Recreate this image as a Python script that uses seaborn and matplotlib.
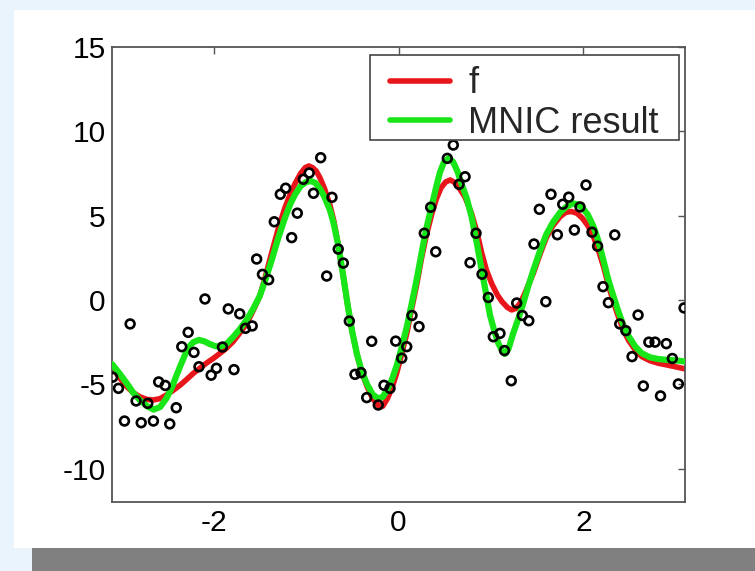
import matplotlib
matplotlib.use("Agg")
import matplotlib.pyplot as plt
import seaborn as sns
import pandas as pd
from matplotlib.patches import Rectangle

# true function f
x_f = [-3.10, -3.02, -2.94, -2.87, -2.80, -2.72, -2.65, -2.58, -2.51, -2.44, -2.36, -2.29,
       -2.22, -2.15, -2.08, -2.00, -1.93, -1.86, -1.79, -1.72, -1.64, -1.57, -1.50, -1.44,
       -1.37, -1.30, -1.23, -1.17, -1.12, -1.06, -1.01, -0.97, -0.93, -0.89, -0.85, -0.80,
       -0.74, -0.70, -0.65, -0.60, -0.55, -0.50, -0.45, -0.40, -0.34, -0.28, -0.22, -0.17,
       -0.12, -0.07, -0.02, 0.03, 0.09, 0.14, 0.20, 0.25, 0.30, 0.36, 0.41, 0.46, 0.51,
       0.56, 0.60, 0.65, 0.72, 0.79, 0.85, 0.90, 0.95, 1.01, 1.07, 1.12, 1.18, 1.225,
       1.27, 1.315, 1.36, 1.41, 1.46, 1.53, 1.60, 1.67, 1.75, 1.81, 1.87, 1.93, 1.99,
       2.05, 2.11, 2.16, 2.22, 2.27, 2.33, 2.38, 2.43, 2.49, 2.56, 2.63, 2.72, 2.81,
       2.90, 2.96, 3.03, 3.10]
y_f = [-3.97, -4.60, -5.14, -5.50, -5.74, -5.90, -5.93, -5.85, -5.63, -5.37, -5.04, -4.70,
       -4.35, -4.05, -3.75, -3.45, -3.16, -2.85, -2.47, -1.98, -1.38, -0.60, 0.25, 1.40,
       2.85, 4.25, 5.45, 6.30, 6.90, 7.50, 7.85, 7.95, 7.85, 7.65, 7.25, 6.60,
       5.60, 4.70, 3.20, 1.50, -0.30, -1.90, -3.20, -4.25, -5.14, -5.85, -6.25, -6.30,
       -5.85, -5.20, -4.35, -3.30, -1.98, -0.60, 1.00, 2.50, 3.80, 5.10, 6.00, 6.65, 7.00,
       7.12, 7.00, 6.70, 6.10, 5.14, 4.00, 2.80, 1.80, 0.95, 0.30, -0.10, -0.45, -0.59,
       -0.50, -0.20, 0.30, 0.95, 1.60, 2.70, 3.70, 4.40, 4.95, 5.20, 5.25, 5.15, 4.85,
       4.40, 3.75, 3.00, 1.95, 0.90, -0.20, -1.00, -1.75, -2.40, -2.95, -3.35, -3.60, -3.75,
       -3.85, -3.92, -4.00, -4.09]

# MNIC estimate
x_mnic = [-3.10, -3.02, -2.94, -2.87, -2.80, -2.72, -2.65, -2.58, -2.51, -2.45, -2.40, -2.36,
          -2.31, -2.27, -2.22, -2.16, -2.10, -2.04, -1.98, -1.93, -1.86, -1.79, -1.72, -1.64,
          -1.57, -1.50, -1.44, -1.37, -1.30, -1.23, -1.17, -1.12, -1.06, -1.00, -0.95, -0.90,
          -0.85, -0.80, -0.74, -0.70, -0.65, -0.60, -0.55, -0.50, -0.45, -0.40, -0.34, -0.28,
          -0.22, -0.17, -0.12, -0.07, -0.02, 0.03, 0.09, 0.14, 0.20, 0.25, 0.30, 0.36, 0.41,
          0.45, 0.49, 0.54, 0.59, 0.64, 0.68, 0.74, 0.79, 0.85, 0.90, 0.95, 0.99, 1.04,
          1.08, 1.12, 1.15, 1.19, 1.24, 1.30, 1.35, 1.40, 1.46, 1.53, 1.60, 1.67, 1.75,
          1.82, 1.89, 1.95, 2.00, 2.05, 2.11, 2.16, 2.22, 2.27, 2.33, 2.38, 2.43, 2.49,
          2.56, 2.63, 2.72, 2.81, 2.90, 2.96, 3.03, 3.10]
y_mnic = [-3.80, -4.35, -4.94, -5.50, -5.93, -6.30, -6.50, -6.35, -5.83, -5.15, -4.45, -3.90,
          -3.25, -2.80, -2.50, -2.37, -2.45, -2.62, -2.74, -2.77, -2.60, -2.20, -1.75, -1.15,
          -0.50, 0.25, 1.20, 2.40, 3.70, 4.85, 5.70, 6.25, 6.75, 7.00, 7.05, 6.95,
          6.60, 6.10, 5.30, 4.50, 3.20, 1.50, -0.30, -1.90, -3.20, -4.20, -5.00, -5.60,
          -5.84, -5.75, -5.30, -4.70, -3.90, -2.90, -1.60, -0.30, 1.30, 2.80, 4.20, 5.60, 6.75,
          7.60, 8.15, 8.40, 8.20, 7.60, 6.92, 6.00, 4.95, 3.30, 1.78, 0.30, -0.90, -1.90,
          -2.57, -3.00, -3.20, -2.90, -2.00, -1.05, -0.20, 0.75, 1.78, 2.90, 3.90, 4.60, 5.20,
          5.55, 5.73, 5.65, 5.40, 5.05, 4.35, 3.55, 2.30, 1.20, 0.15, -0.70, -1.45, -2.15,
          -2.75, -3.15, -3.40, -3.50, -3.55, -3.57, -3.60, -3.65]

# noisy samples
x_obs = [-3.093, -3.030, -2.965, -2.904, -2.839, -2.784, -2.713, -2.652, -2.595, -2.524,
         -2.475, -2.405, -2.345, -2.276, -2.213, -2.159, -2.094, -2.027, -1.970, -1.905,
         -1.842, -1.780, -1.718, -1.656, -1.583, -1.535, -1.472, -1.405, -1.344, -1.279,
         -1.221, -1.156, -1.095, -1.030, -0.966, -0.920, -0.842, -0.777, -0.720, -0.652,
         -0.597, -0.532, -0.471, -0.406, -0.344, -0.290, -0.219, -0.157, -0.092, -0.030,
         0.035, 0.089, 0.146, 0.222, 0.279, 0.348, 0.403, 0.528, 0.593, 0.655,
         0.720, 0.774, 0.839, 0.904, 0.972, 1.026, 1.098, 1.147, 1.220, 1.279,
         1.340, 1.410, 1.466, 1.524, 1.594, 1.650, 1.719, 1.777, 1.842, 1.903,
         1.964, 2.029, 2.094, 2.154, 2.213, 2.271, 2.340, 2.394, 2.460, 2.527,
         2.592, 2.649, 2.709, 2.776, 2.835, 2.898, 2.963, 3.028, 3.090]
y_obs = [-4.58, -5.24, -7.18, -1.42, -5.99, -7.28, -6.13, -7.18, -4.86, -5.07,
         -7.35, -6.39, -2.77, -1.92, -3.11, -3.96, 0.06, -4.46, -4.05, -2.79,
         -0.53, -4.13, -0.82, -1.68, -1.54, 2.43, 1.52, 1.20, 4.64, 6.27,
         6.63, 3.70, 5.15, 7.16, 7.53, 6.33, 8.44, 1.42, 6.09, 3.02,
         2.19, -1.25, -4.41, -4.31, -5.79, -2.45, -6.23, -5.06, -5.24, -2.44,
         -3.45, -2.77, -0.92, -1.58, 3.96, 5.50, 2.86, 8.40, 9.19, 6.86,
         7.31, 2.21, 3.96, 1.53, 0.15, -2.18, -1.98, -3.00, -4.79, -0.18,
         -0.92, -1.23, 3.32, 5.38, -0.10, 6.27, 3.87, 5.68, 6.10, 4.15,
         5.52, 6.82, 4.02, 3.19, 0.79, -0.16, 3.86, -1.42, -1.82, -3.36,
         -0.89, -5.10, -2.50, -2.50, -5.69, -2.59, -3.47, -4.98, -0.47]

x_ticks = [-2, 0, 2]
y_ticks = [-10, -5, 0, 5, 10, 15]

df_f = pd.DataFrame({"x": x_f, "y": y_f})
df_m = pd.DataFrame({"x": x_mnic, "y": y_mnic})
df_o = pd.DataFrame({"x": x_obs, "y": y_obs})

sns.set_theme(style="white")
plt.rcParams["font.family"] = ["Liberation Sans", "DejaVu Sans"]

fig = plt.figure(figsize=(7.55, 5.71), dpi=100, facecolor="#eaf4fc")
# white page with a grey strip beneath it
fig.patches.append(Rectangle((14 / 755, 1 - 548 / 571), 741 / 755, 538 / 571,
                             transform=fig.transFigure, facecolor="white",
                             edgecolor="none", zorder=-10))
fig.patches.append(Rectangle((32 / 755, 0), 723 / 755, 23 / 571,
                             transform=fig.transFigure, facecolor="#808080",
                             edgecolor="none", zorder=-10))

ax = fig.add_axes([112 / 755, 1 - 502.3 / 571, 573 / 755, 455.2 / 571])
ax.set_zorder(1)
ax.set_facecolor("white")

sns.lineplot(data=df_f, x="x", y="y", ax=ax, color="#e8151b", linewidth=4.0,
             label="f", sort=False, zorder=2)
sns.lineplot(data=df_m, x="x", y="y", ax=ax, color="#19e619", linewidth=4.5,
             label="MNIC result", sort=False, zorder=3)
sns.scatterplot(data=df_o, x="x", y="y", ax=ax, marker="o", s=40,
                facecolors="none", edgecolor="black", linewidth=1.9, zorder=4,
                legend=False)

ax.set_xlim(-3.1, 3.1)
ax.set_ylim(-12, 15)
ax.set_xticks(x_ticks)
ax.set_yticks(y_ticks)
ax.set_xticklabels([str(v) for v in x_ticks])
ax.set_yticklabels([str(v) for v in y_ticks])
ax.set_xlabel("")
ax.set_ylabel("")
ax.tick_params(direction="in", top=True, right=True, length=5, width=1,
               color="#555555", labelsize=21.5, labelcolor="black", pad=4.5)
for sp in ax.spines.values():
    sp.set_color("#555555")
    sp.set_linewidth(1.3)

leg = ax.legend(loc="upper right", fontsize=26, frameon=True, fancybox=False,
                handlelength=1.65, handletextpad=0.5, borderpad=0.15,
                labelspacing=0.12, borderaxespad=0.0,
                bbox_to_anchor=(0.9634, 0.9695))
leg.set_zorder(6)
leg.get_frame().set_visible(False)
for h in leg.get_lines():
    h.set_linewidth(4.0)

# legend box with wider side margins and a taller top margin
fig.canvas.draw()
bb = leg.get_window_extent()
inv = fig.transFigure.inverted()
(bx0, by0), (bx1, by1) = inv.transform([[bb.x0 - 15, bb.y0 + 6], [bb.x1 + 15, bb.y1 + 6]])
box = Rectangle((bx0, by0), bx1 - bx0, by1 - by0, transform=fig.transFigure,
                facecolor="white", edgecolor="#444444", linewidth=1.2, zorder=5.5,
                clip_on=False)
ax.add_artist(box)

fig.savefig("out.png", dpi=100, facecolor=fig.get_facecolor())
